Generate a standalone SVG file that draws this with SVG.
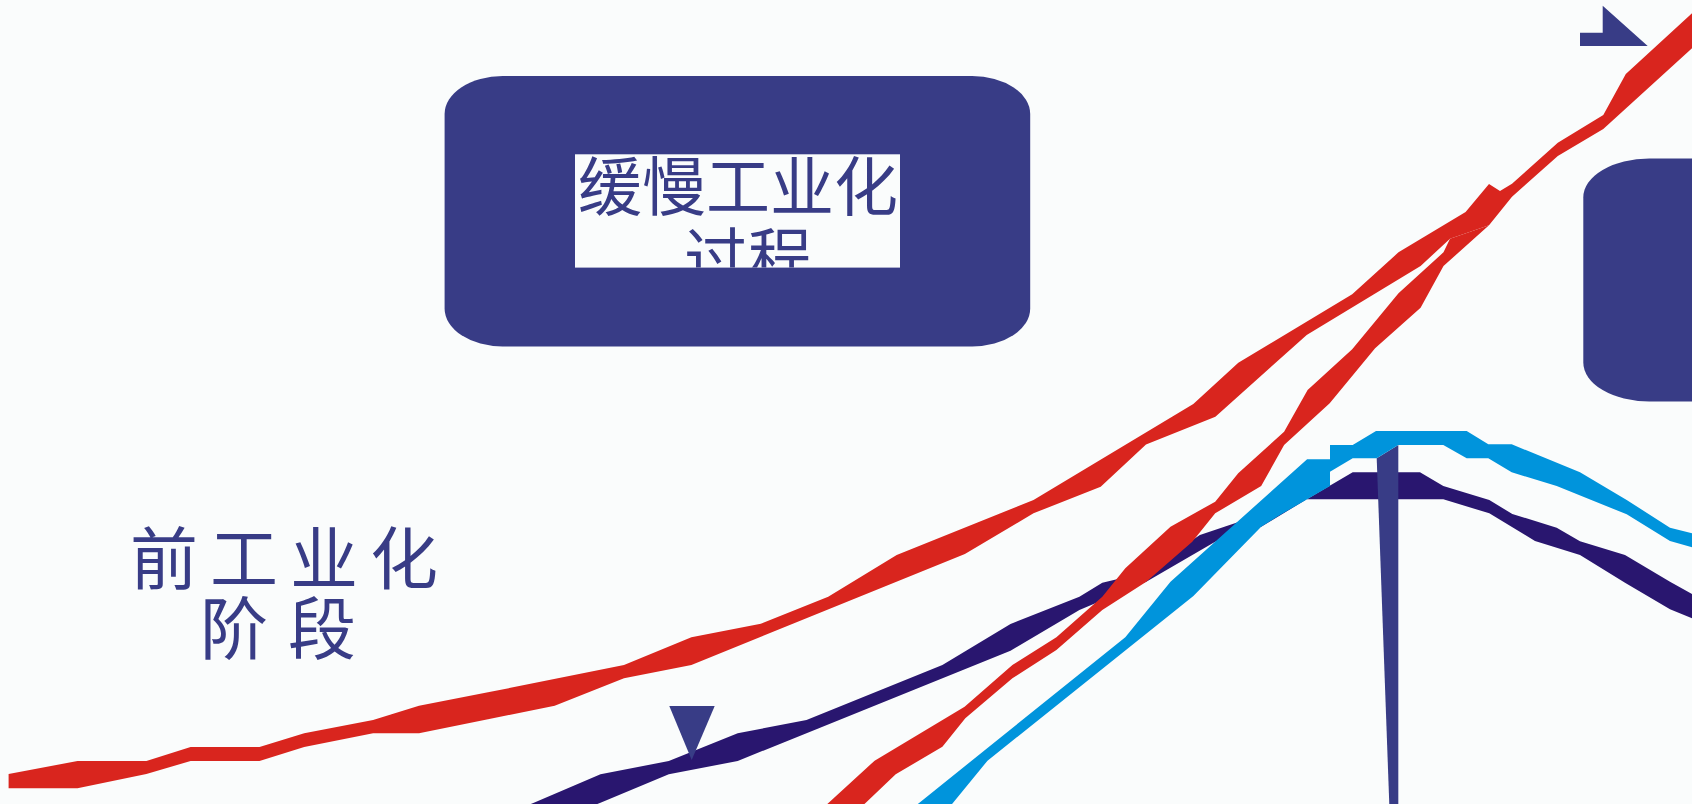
<svg xmlns="http://www.w3.org/2000/svg" width="1692" height="804" viewBox="0 0 1692 804">
<defs>
<style>
.box{fill:#383C86}
.red{fill:#D9251E}
.pur{fill:#29166F}
.sky{fill:#0094DC}
.mark{fill:#383C86}
.txt{font-family:"Noto Sans CJK SC","Noto Sans CJK JP",sans-serif;fill:#383C86}
.mid{text-anchor:middle}
</style>
<clipPath id="clipTitle"><rect x="575" y="154.3" width="325" height="113.3"/></clipPath>
</defs>
<rect x="0" y="0" width="1692" height="804" fill="#FAFCFC"/>
<g id="node-box1">
<rect class="box" x="444.6" y="76" width="585.6" height="270.5" rx="58" ry="38"/>
<rect x="575" y="154.3" width="325" height="113.3" fill="#FAFCFC"/>
<g clip-path="url(#clipTitle)">
<text class="txt mid" x="738" y="210" font-size="64">缓慢工业化</text>
<text class="txt mid" x="748" y="281" font-size="64">过程</text>
</g>
</g>
<g id="node-box2">
<rect class="box" x="1583.3" y="158.5" width="400" height="243" rx="66" ry="39"/>
</g>
<g id="node-label-pre">
<text class="txt" x="130" y="584" font-size="68" letter-spacing="12">前工业化</text>
<text class="txt" x="200" y="654" font-size="68" letter-spacing="20">阶段</text>
</g>
<g id="connectors">
<polygon class="pur" points="493,820 533.9,802.7 600.5,774.3 668.8,761 737.7,733.3 806.5,720 942.4,665 1010.5,624 1079.4,596.7 1102.3,582.7 1125.3,577.3 1148,570 1199.9,535 1249.7,518.3 1306.7,499.3 1352.7,472.3 1420,472.3 1443.3,486 1489.3,500 1512.3,514 1556.7,527.7 1580,541.3 1625,555 1670,581.7 1692,594 1692,618.3 1670,609.3 1625,582.7 1580,555 1535,541 1489.3,513.3 1443.3,499.3 1306.7,499.3 1261.2,526.7 1215.2,541.7 1146.3,581.7 1079.4,610 1010.5,650.7 737.7,761 668.8,774.3 600.5,802.7 559,820"/>
<polygon class="mark" points="1376.7,458.3 1398.3,445 1398.3,810 1389.5,810"/>
<polygon class="sky" points="897.9,820 919.4,802.7 1125.3,637.3 1170.5,581.7 1307.1,459.3 1330,459.3 1330,445 1352.7,445 1376,431 1466.7,431 1488.3,444.3 1511.7,444.3 1580,472.3 1626.7,500 1670,527.7 1692,533.3 1692,547.3 1670,541 1626.7,514.3 1556.7,486 1511.7,472.3 1488.3,458.3 1466.7,458.3 1443.3,445 1398.3,445 1376.7,458.3 1352.7,458.3 1330,471.7 1330,486 1280,515 1261.2,526.7 1193.4,596 987.5,760.7 953.1,802.7 939,820"/>
<polygon class="red" points="810,820 828.7,802.7 874.6,760.7 964.6,706.7 1012.4,665 1056.4,637.3 1102.3,596.7 1125.3,568.3 1170.5,526.7 1215.2,501.7 1238.2,473.3 1284.1,431.7 1307.6,390 1352.2,349.3 1398.5,293.3 1443.5,252.3 1450,238.7 1489,225.3 1443.5,266 1420.6,307.7 1375.1,348.3 1329.7,403.3 1284.1,445 1261.2,486 1215.2,513.3 1192.3,541.7 1146.3,581.7 1102.3,610 1056.4,650 1012.4,678.3 965.3,718.3 942.4,746.7 895.7,774.3 865.8,802.7 847.5,820"/>
<polygon class="red" points="8.6,774 77.5,761 146.4,761 190.6,747 259.5,747 304.2,733.3 373.1,720 419,705.7 488,692.3 624,665 691.4,637.3 760.8,623.7 828.2,596.7 896.7,555 1033.5,500 1193.3,404 1238.3,362.7 1352.2,294.3 1398.5,252.3 1465.6,212 1489,184 1500,191 1512,183.7 1557.8,142.7 1603.3,115 1625.8,74 1692,13.3 1692,48.3 1603.3,129 1557.8,156 1512,196.7 1489,225.3 1450,238.7 1420.6,266 1306.7,335 1215.4,416.7 1146,444.6 1100.7,486.7 1033.5,513.3 964.9,554 691.4,665 624,678.3 554.7,705.7 488,719.3 419,733.3 373.1,733.3 304.2,747 259.5,761 190.6,761 146.4,774 77.5,788.3 8.6,788.3"/>
</g>
<g id="node-marker-down">
<polygon class="mark" points="669.3,706 714.7,706 691.7,760"/>
</g>
<g id="node-marker-top">
<polygon class="mark" points="1580,32.7 1602.7,32.7 1602.7,5.7 1647.7,46 1580,46"/>
</g>
</svg>
